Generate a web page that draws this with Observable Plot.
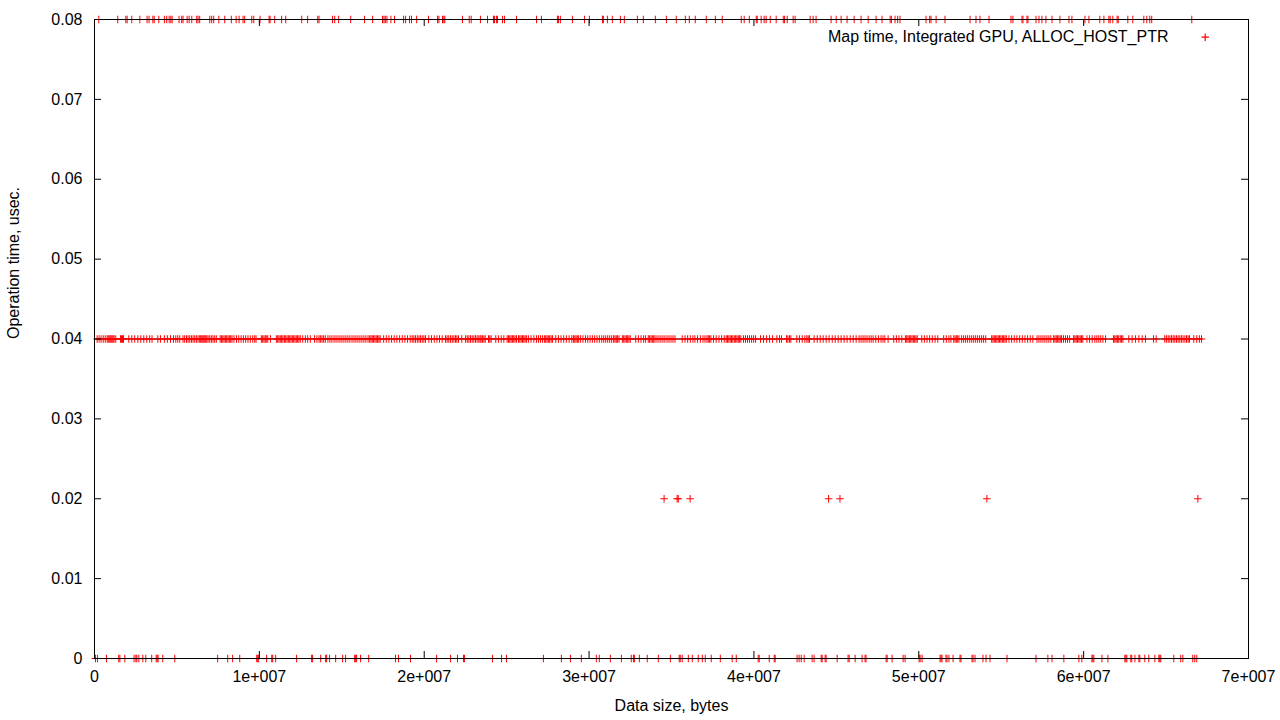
<!DOCTYPE html>
<html><head><meta charset="utf-8">
<script src="https://cdn.jsdelivr.net/npm/d3@7"></script>
<script src="https://cdn.jsdelivr.net/npm/@observablehq/plot@0.6"></script>
<style>
body{margin:0;background:#fff;}
#chart{width:1280px;height:720px;}
</style></head><body><div id="chart"></div>
<script>
const seriesLabel = "Map time, Integrated GPU, ALLOC_HOST_PTR";
const xAxisLabel = "Data size, bytes";
const yAxisLabel = "Operation time, usec.";
const xTickValues = [0, 1e7, 2e7, 3e7, 4e7, 5e7, 6e7, 7e7];
const xTickLabels = ["0", "1e+007", "2e+007", "3e+007", "4e+007", "5e+007", "6e+007", "7e+007"];
const yTickValues = [0, 0.01, 0.02, 0.03, 0.04, 0.05, 0.06, 0.07, 0.08];
const yTickLabels = ["0", "0.01", "0.02", "0.03", "0.04", "0.05", "0.06", "0.07", "0.08"];

// data sizes in millions of bytes, grouped by measured operation time (usec.)
const sizesAt008 = [0.26,1.41,1.90,1.98,2.26,2.75,3.19,3.31,3.54,3.62,3.90,4.24,4.38,4.53,4.63,4.71,5.13,5.29,5.37,5.62,5.74,5.90,6.20,6.28,6.38,6.99,7.11,7.23,7.54,7.90,8.30,8.59,8.77,9.01,9.11,9.54,9.66,10.04,10.59,10.65,10.93,11.35,11.60,12.57,12.93,13.54,13.62,14.44,14.57,14.81,15.54,16.38,16.87,17.47,17.56,17.64,17.74,17.98,18.20,18.75,18.87,19.11,19.23,19.54,20.26,20.81,20.89,21.11,21.19,21.25,22.32,22.73,22.85,
23.41,23.84,24.20,24.26,24.38,24.44,24.75,24.87,25.60,26.81,27.11,28.08,28.14,28.26,28.99,29.72,30.02,30.81,30.87,31.11,31.41,31.90,32.14,32.93,33.29,34.02,34.69,35.29,35.84,36.08,36.44,37.11,37.66,38.08,39.23,39.41,39.72,40.14,40.20,40.44,40.62,40.74,40.99,41.35,41.78,41.86,42.02,42.38,42.50,43.41,43.59,43.77,44.68,44.99,45.29,45.65,46.08,46.50,
46.93,47.41,47.77,48.26,48.34,48.56,48.72,48.86,50.44,50.66,50.74,51.05,51.59,53.11,53.47,53.71,54.26,55.59,55.71,56.26,56.32,56.56,56.62,57.11,57.29,57.47,57.71,58.08,58.56,59.11,59.29,60.08,60.32,60.98,61.23,61.53,61.61,61.77,62.03,62.10,62.68,62.98,63.65,63.83,64.01,64.13,66.56];

const sizesAt004 = [0.16,0.28,0.40,0.53,0.65,0.77,0.83,0.89,0.95,1.01,1.07,1.13,1.19,1.29,1.58,1.64,1.70,1.76,2.08,2.26,2.44,2.63,2.81,2.99,3.17,3.35,3.49,3.84,4.00,4.24,4.42,4.61,4.79,4.93,5.05,5.17,5.37,5.47,5.58,5.68,5.78,5.88,5.98,6.08,6.18,6.28,6.38,6.44,6.51,6.57,6.63,6.69,6.75,6.81,6.89,6.99,7.09,7.19,7.29,7.39,7.62,7.70,7.78,7.86,7.94,8.02,8.10,8.18,8.26,8.34,8.46,8.61,8.75,8.89,9.03,9.17,9.31,9.45,9.60,9.72,9.80,10.12,10.20,10.28,10.36,10.42,10.51,10.67,11.03,11.11,11.19,11.27,11.35,11.43,11.52,11.60,11.68,11.76,11.84,11.92,12.00,12.08,12.16,12.24,12.32,12.40,12.48,12.63,12.79,12.93,13.09,13.35,13.49,13.62,13.70,13.80,13.90,14.00,14.16,14.28,14.40,14.53,14.65,14.77,14.89,15.01,15.13,15.25,15.37,15.49,15.62,15.74,15.86,15.98,16.10,16.22,16.34,16.46,16.59,16.69,16.77,16.85,16.93,17.01,17.09,17.17,17.25,17.33,17.54,17.70,17.86,18.02,18.18,18.34,18.51,18.67,18.83,18.99,19.15,19.27,19.37,19.47,19.58,19.68,19.78,19.88,19.98,20.08,20.28,20.44,20.61,20.77,20.93,21.09,21.29,21.39,21.49,21.60,21.70,21.80,21.90,21.98,22.08,22.28,22.51,22.61,22.71,22.81,22.91,23.01,23.11,23.21,23.31,23.39,
23.45,23.53,23.62,23.70,23.90,23.98,24.06,24.34,24.50,24.67,24.83,25.03,25.11,25.19,25.27,25.35,25.43,25.51,25.60,25.72,25.80,25.88,25.96,26.04,26.12,26.20,26.32,26.48,26.65,26.81,26.93,27.05,27.17,27.29,27.37,27.45,27.53,27.61,27.70,27.78,27.98,28.14,28.30,28.46,28.62,28.79,28.95,29.05,29.13,29.21,29.29,29.37,29.49,29.63,29.78,29.92,30.06,30.20,30.34,30.48,30.62,30.77,30.89,31.01,31.13,31.25,31.37,31.49,31.57,31.65,31.73,31.82,32.02,32.10,32.18,32.26,32.34,32.42,32.50,32.83,32.99,33.15,33.31,33.43,33.59,33.67,33.76,33.84,33.92,34.00,34.12,34.24,34.36,34.48,34.60,34.73,34.85,34.97,35.09,35.21,35.65,35.82,35.98,36.14,36.30,36.42,36.58,36.75,36.91,37.03,37.15,37.23,37.31,37.39,37.55,37.71,37.88,38.04,38.20,38.32,38.40,38.48,38.56,38.64,38.72,38.81,38.89,38.97,39.05,39.13,39.21,39.37,39.49,39.61,39.73,39.86,39.98,40.10,40.40,40.58,40.77,40.95,41.13,41.39,41.55,41.67,41.98,42.06,42.16,42.24,42.60,42.76,42.93,43.09,43.21,43.29,43.37,43.65,43.84,44.02,44.20,44.38,44.56,44.75,44.93,45.11,45.29,45.47,45.65,45.84,46.02,46.20,46.38,
46.50,46.62,46.74,46.86,46.99,47.11,47.23,47.39,47.55,47.71,47.83,47.94,48.14,48.48,48.64,48.80,48.97,49.19,49.27,49.35,49.43,49.51,49.59,49.67,49.75,49.83,49.91,50.18,50.34,50.50,50.66,50.82,50.99,51.15,51.51,51.67,51.83,51.95,52.12,52.20,52.28,52.36,52.44,52.60,52.72,52.84,52.96,53.09,53.21,53.33,53.45,53.57,53.69,53.81,53.93,54.06,54.42,54.50,54.58,54.66,54.74,54.82,54.90,54.98,55.07,55.15,55.23,55.31,55.47,55.63,55.79,55.95,56.12,56.28,56.44,56.60,56.76,56.92,57.17,57.29,57.41,57.53,57.65,57.77,57.89,58.01,58.18,58.26,58.34,58.42,58.50,58.58,58.66,58.78,58.90,59.02,59.15,59.39,59.47,59.55,59.63,59.71,59.79,59.87,59.95,60.20,60.36,60.52,60.68,60.80,60.92,61.04,61.17,61.33,61.81,61.89,61.97,62.05,62.13,62.22,62.30,62.38,62.74,62.94,63.15,63.35,63.55,63.75,64.24,64.40,64.92,65.02,65.13,65.23,65.33,65.43,65.53,65.63,65.73,65.83,65.93,66.03,66.14,66.24,66.34,66.42,66.68,66.86,67.02,67.15];

const sizesAt002 = [34.55,35.34,35.41,36.13,44.53,45.22,54.13,66.93];

const sizesAt000 = [0.06,0.18,0.73,1.47,1.54,1.84,2.40,2.51,2.57,2.69,2.93,3.11,3.47,3.74,3.80,3.86,4.14,4.87,7.47,8.08,8.38,8.81,9.84,9.90,9.96,10.44,10.75,10.81,10.99,12.26,13.17,13.23,13.72,14.02,14.08,14.26,14.63,15.05,15.23,15.78,15.84,15.90,16.14,16.63,18.26,18.44,19.17,20.75,21.60,22.02,22.38,22.44,
24.14,24.69,24.99,27.23,28.32,28.87,29.53,30.44,30.62,31.29,31.96,32.56,32.69,32.75,33.05,33.53,34.20,34.93,35.47,35.53,35.65,36.02,36.26,36.62,36.87,37.05,37.41,37.96,38.68,38.93,40.26,40.32,40.93,41.23,41.29,42.62,42.74,42.87,43.05,43.53,43.65,44.08,44.14,44.32,44.38,45.05,45.71,45.78,46.14,46.56,
46.74,46.80,48.02,48.08,48.38,49.05,49.17,50.02,50.08,50.20,51.29,51.35,51.41,51.65,51.71,51.83,52.08,52.50,52.56,53.23,53.29,53.41,53.89,54.08,54.32,55.35,57.11,57.83,58.08,58.80,59.71,59.89,60.50,60.56,60.62,61.11,61.47,62.50,62.56,62.62,62.86,62.92,63.11,63.35,63.41,63.71,63.95,64.32,64.56,64.62,64.68,65.47,65.89,66.02,66.62,66.74,66.86];

const groups = [[0.08, sizesAt008], [0.04, sizesAt004], [0.02, sizesAt002], [0, sizesAt000]];
const rows = groups.flatMap(([t, xs]) => xs.map(x => ({size: x * 1e6, time: t})));
const midRow = sizesAt004.map(x => ({size: x * 1e6, time: 0.04}));

const W = 1280, H = 720, mL = 94, mR = 32, mT = 19, mB = 62;
const fw = W - mL - mR, fh = H - mT - mB, tk = 7;
const red = "#ff0000";

const chart = Plot.plot({
  width: W, height: H,
  marginLeft: mL, marginRight: mR, marginTop: mT, marginBottom: mB,
  style: {fontFamily: "'Liberation Sans', Arial, sans-serif", fontSize: "16px", color: "#000", background: "#fff", overflow: "visible"},
  x: {domain: [0, 7e7]},
  y: {domain: [0, 0.08]},
  marks: [
    Plot.lineY(midRow, {x: "size", y: "time", stroke: "#000", strokeWidth: 1}),
    Plot.dot(rows, {x: "size", y: "time", symbol: "plus", r: 2.55, stroke: red, strokeWidth: 1}),
    Plot.frame({stroke: "#000", strokeWidth: 1}),
    Plot.ruleX(xTickValues, {insetTop: fh - tk, stroke: "#000"}),
    Plot.ruleX(xTickValues, {insetBottom: fh - tk, stroke: "#000"}),
    Plot.ruleY(yTickValues, {insetRight: fw - tk, stroke: "#000"}),
    Plot.ruleY(yTickValues, {insetLeft: fw - tk, stroke: "#000"}),
    Plot.axisX(xTickValues, {tickSize: 0, tickPadding: 12, tickFormat: d => xTickLabels[xTickValues.indexOf(d)], label: null}),
    Plot.axisY(yTickValues, {tickSize: 0, tickPadding: 12, tickFormat: d => yTickLabels[yTickValues.indexOf(d)], label: null}),
    Plot.text([xAxisLabel], {frameAnchor: "bottom", dy: 47, lineAnchor: "middle", fill: "#000"}),
    Plot.text([yAxisLabel], {frameAnchor: "left", dx: -81, rotate: -90, lineAnchor: "middle", fill: "#000"}),
    Plot.text([seriesLabel], {frameAnchor: "top-right", dx: -80, dy: 17, textAnchor: "end", lineAnchor: "middle", fill: "#000"}),
    Plot.dot([seriesLabel], {frameAnchor: "top-right", dx: -43.3, dy: 17.7, symbol: "plus", r: 2.55, stroke: red, strokeWidth: 1.2})
  ]
});
document.getElementById("chart").append(chart);
</script></body></html>
